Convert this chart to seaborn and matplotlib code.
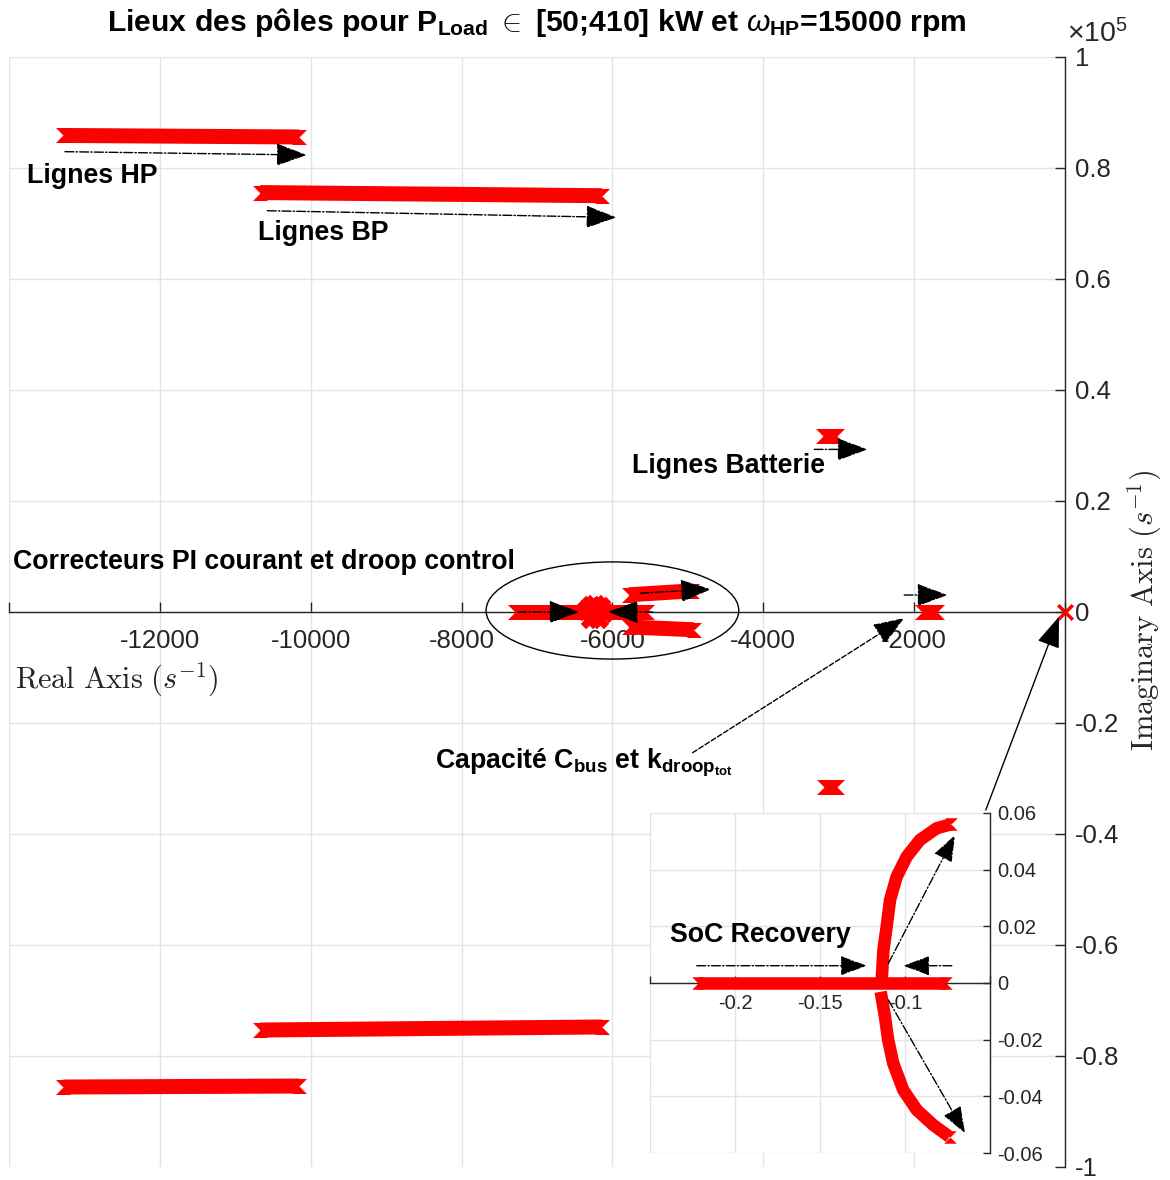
import matplotlib
matplotlib.use("Agg")
import pandas as pd
import matplotlib.pyplot as plt
import seaborn as sns
from matplotlib.patches import Ellipse

sns.set_theme(style="whitegrid")
plt.rcParams["font.family"] = ["Liberation Sans", "DejaVu Sans"]
plt.rcParams["mathtext.fontset"] = "custom"
plt.rcParams["mathtext.rm"] = "Liberation Sans"
plt.rcParams["mathtext.bf"] = "Liberation Sans:bold"
plt.rcParams["mathtext.it"] = "Liberation Sans:italic"

# --- main plot: pole branches (first / last pole of each branch) ---
branch_names = ["HP+", "BP+", "BP-", "HP-", "Bat+", "Bat-", "Cbus", "PI0", "PI+", "PI-"]
branch_re_start = [-13278, -10669, -10669, -13278, -3203, -3191, -1901, -7291, -5782, -5782]
branch_re_end = [-10152, -6139, -6139, -10152, -3026, -3026, -1702, -5542, -4947, -4921]
branch_im_start = [85860, 75570, -75320, -85590, 31700, -31500, 0, 0, 3100, -2700]
branch_im_end = [85590, 75010, -74770, -85410, 31700, -31500, 0, 0, 3800, -3200]

# cluster of poles near -6200
blob_re = [-6340, -6290, -6230, -6160, -6130, -6280, -6190]
blob_im = [400, 1000, 1200, 900, 0, -1000, -1100]

# SoC recovery zoom (inset)
soc_axis_re = [-0.2220, -0.0760]
soc_axis_im = [0.0, 0.0]
soc_up_re = [-0.1137, -0.1127, -0.1108, -0.1088, -0.1049, -0.0990, -0.0912, -0.0814, -0.0731]
soc_up_im = [0.001, 0.0116, 0.0199, 0.0293, 0.0375, 0.0446, 0.0505, 0.0546, 0.0560]
soc_dn_re = [-0.1143, -0.1118, -0.1099, -0.1069, -0.1010, -0.0931, -0.0834, -0.0738]
soc_dn_im = [-0.0031, -0.0119, -0.0201, -0.0284, -0.0378, -0.0448, -0.0501, -0.0543]

# direction arrows: (tail_re, tail_im, head_re, head_im, linestyle)
main_arrows = [
    (-13258, 82940, -10053, 82340, "-."),
    (-10575, 72300, -5947, 71100, "-."),
    (-3325, 29300, -2618, 29300, "-."),
    (-2132, 3060, -1558, 3060, "-."),
    (-7254, 0, -6437, 0, "-."),
    (-5466, 0, -6062, 0, "-."),
    (-5629, 3400, -4693, 4100, "-."),
    (-4937, -25350, -2132, -1100, "--"),
    (-1050, -35680, -80, -850, "-"),
]
inset_arrows = [
    (-0.2225, 0.0061, -0.1225, 0.0061),
    (-0.0725, 0.0061, -0.1010, 0.0061),
    (-0.1098, 0.0069, -0.0706, 0.0522),
    (-0.1098, -0.0060, -0.0647, -0.0530),
]

xtick_vals = [-14000, -12000, -10000, -8000, -6000, -4000, -2000, 0]
xtick_text = ["", "-12000", "-10000", "-8000", "-6000", "-4000", "-2000", ""]
ytick_vals = [-1e5, -0.8e5, -0.6e5, -0.4e5, -0.2e5, 0, 0.2e5, 0.4e5, 0.6e5, 0.8e5, 1e5]
ytick_text = ["-1", "-0.8", "-0.6", "-0.4", "-0.2", "0", "0.2", "0.4", "0.6", "0.8", "1"]
in_xtick_vals = [-0.25, -0.2, -0.15, -0.1, -0.05]
in_xtick_text = ["", "-0.2", "-0.15", "-0.1", ""]
in_ytick_vals = [-0.06, -0.04, -0.02, 0, 0.02, 0.04, 0.06]
in_ytick_text = ["-0.06", "-0.04", "-0.02", "0", "0.02", "0.04", "0.06"]

DARK = "#262626"
GRID = "#e4e4e4"
RED = "#ff0000"
# notched ribbon end left by the overlapping 'x' markers of the locus
NOTCH = [(0, 0), (-1, 1), (1, 1), (0, 0), (1, -1), (-1, -1), (0, 0)]
ARROW = "-|>,head_length=0.97,head_width=0.36"

branches = pd.DataFrame({
    "branche": branch_names * 2,
    "re": branch_re_start + branch_re_end,
    "im": branch_im_start + branch_im_end,
})

fig = plt.figure(figsize=(11.7, 11.8), dpi=100)
ax = fig.add_axes([0.00769, 0.01102, 0.90256, 0.94068])

sns.lineplot(data=branches, x="re", y="im", units="branche", estimator=None,
             sort=False, color=RED, linewidth=10.8, solid_capstyle="butt",
             legend=False, ax=ax, zorder=3)
sns.scatterplot(data=branches, x="re", y="im", marker=NOTCH, s=117, color=RED,
                linewidth=0, legend=False, ax=ax, zorder=3)
sns.scatterplot(x=blob_re, y=blob_im, marker="X", s=240, color=RED,
                linewidth=0, legend=False, ax=ax, zorder=3)
sns.scatterplot(x=[0], y=[0], marker="x", s=110, color=RED, linewidth=2.5,
                legend=False, ax=ax, zorder=5, clip_on=False)

ax.add_patch(Ellipse((-6000, 270), width=3350, height=17500, fill=False,
                     ec="black", lw=1, zorder=4))

for x0, y0, x1, y1, ls in main_arrows:
    ax.annotate("", xy=(x1, y1), xytext=(x0, y0),
                arrowprops=dict(arrowstyle=ARROW, linestyle=ls, lw=1, color="black",
                                mutation_scale=20, shrinkA=0, shrinkB=0),
                zorder=6)

ax.set_xlim(-14000, 0)
ax.set_ylim(-1e5, 1e5)
ax.set_xticks(xtick_vals, xtick_text)
ax.set_yticks(ytick_vals, ytick_text)
ax.grid(True, color=GRID, lw=1)
ax.set_facecolor("white")

ax.spines["left"].set_visible(False)
ax.spines["top"].set_visible(False)
ax.spines["bottom"].set_position(("data", 0))
ax.spines["right"].set_position(("data", 0))
for s in ["bottom", "right"]:
    ax.spines[s].set_color(DARK)
    ax.spines[s].set_linewidth(1)
ax.yaxis.tick_right()
ax.tick_params(axis="x", bottom=True, top=False, direction="in", length=7,
               width=1, color=DARK, labelcolor=DARK, labelsize=18.5, pad=12)
ax.tick_params(axis="y", right=True, left=False, labelright=True, labelleft=False,
               direction="in", length=7, width=1, color=DARK, labelcolor=DARK,
               labelsize=18.5, pad=7)

ax.set_xlabel(r"$\mathrm{Real\ Axis}\ (s^{-1})$", fontsize=21.8, color=DARK,
              math_fontfamily="cm")
ax.xaxis.set_label_coords(0.0057, 0.4387)
ax.xaxis.label.set_ha("left")
ax.xaxis.label.set_va("center")
ax.yaxis.set_label_position("right")
ax.set_ylabel(r"$\mathrm{Imaginary\ Axis}\ (s^{-1})$", fontsize=22, color=DARK,
              math_fontfamily="cm")
ax.yaxis.set_label_coords(1.0758, 0.502)
ax.yaxis.label.set_va("center")

fig.text(1067 / 1170, 1 - 42 / 1180, r"$\times10^5$", fontsize=20.5, color=DARK)
fig.text(537 / 1170, 1 - 31 / 1180,
         r"Lieux des pôles pour P$_{\mathbf{Load}}$ $\in$ [50;410] kW et "
         r"$\omega_{\mathbf{HP}}$=15000 rpm",
         fontsize=21.7, fontweight="bold", ha="center", va="baseline", color="black")

note_kw = dict(fontsize=19.3, fontweight="bold", color="black", va="baseline", zorder=7)
ax.text(-13762, 77300, "Lignes HP", **note_kw)
ax.text(-10702, 67000, "Lignes BP", **note_kw)
ax.text(-5735, 25000, "Lignes Batterie", **note_kw)
ax.text(-13947, 7750, "Correcteurs PI courant et droop control", **note_kw)
ax.text(-8358, -28160,
        r"Capacité C$_{\mathbf{bus}}$ et k$_{\mathbf{droop}_{\mathbf{tot}}}$",
        **note_kw)

# --- inset: SoC recovery ---
axin = fig.add_axes([0.55556, 0.02288, 0.29060, 0.28814])
axin.set_facecolor("white")
soc = pd.DataFrame({
    "branche": ["axe"] * len(soc_axis_re) + ["haut"] * len(soc_up_re) + ["bas"] * len(soc_dn_re),
    "re": soc_axis_re + soc_up_re + soc_dn_re,
    "im": soc_axis_im + soc_up_im + soc_dn_im,
})
sns.lineplot(data=soc, x="re", y="im", units="branche", estimator=None, sort=False,
             color=RED, linewidth=9, solid_capstyle="butt", solid_joinstyle="round",
             legend=False, ax=axin, zorder=3)
ends = pd.DataFrame({
    "re": [soc_axis_re[0], soc_axis_re[-1], soc_up_re[-1], soc_dn_re[-1]],
    "im": [soc_axis_im[0], soc_axis_im[-1], soc_up_im[-1], soc_dn_im[-1]],
})
sns.scatterplot(data=ends, x="re", y="im", marker=NOTCH, s=81, color=RED,
                linewidth=0, legend=False, ax=axin, zorder=3)
for x0, y0, x1, y1 in inset_arrows:
    axin.annotate("", xy=(x1, y1), xytext=(x0, y0),
                  arrowprops=dict(arrowstyle=ARROW, linestyle="-.", lw=1, color="black",
                                  mutation_scale=17, shrinkA=0, shrinkB=0),
                  zorder=6)
axin.text(-0.2382, 0.01458, "SoC Recovery", **note_kw)

axin.set_xlim(-0.25, -0.05)
axin.set_ylim(-0.06, 0.06)
axin.set_xticks(in_xtick_vals, in_xtick_text)
axin.set_yticks(in_ytick_vals, in_ytick_text)
axin.grid(True, color=GRID, lw=1)
axin.set_xlabel("")
axin.set_ylabel("")
axin.spines["left"].set_visible(False)
axin.spines["top"].set_visible(False)
axin.spines["bottom"].set_position(("data", 0))
for s in ["bottom", "right"]:
    axin.spines[s].set_color(DARK)
    axin.spines[s].set_linewidth(1)
axin.yaxis.tick_right()
axin.tick_params(axis="x", bottom=True, top=False, direction="in", length=5,
                 width=1, color=DARK, labelcolor=DARK, labelsize=14.5, pad=8)
axin.tick_params(axis="y", right=True, left=False, labelright=True, labelleft=False,
                 direction="in", length=5, width=1, color=DARK, labelcolor=DARK,
                 labelsize=14.5, pad=5)

fig.savefig("out.png", dpi=100)
